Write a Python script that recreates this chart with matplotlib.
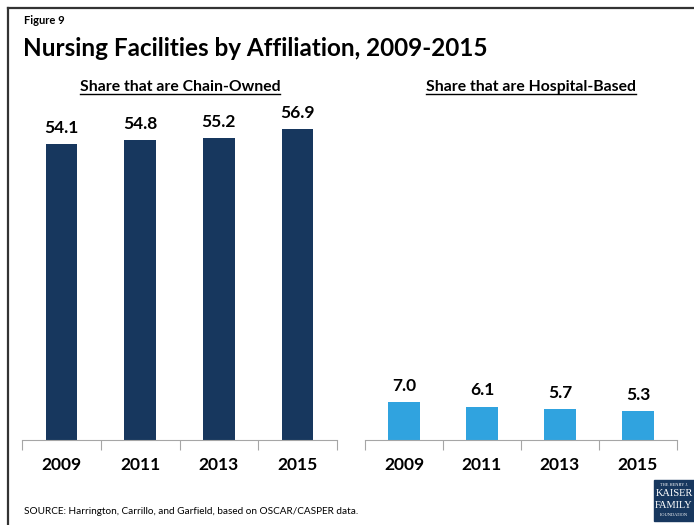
import matplotlib
matplotlib.use("Agg")
import matplotlib.pyplot as plt
from matplotlib.lines import Line2D
from matplotlib.patches import Rectangle

years = ["2009", "2011", "2013", "2015"]
chain_owned = [54.1, 54.8, 55.2, 56.9]
hospital_based = [7.0, 6.1, 5.7, 5.3]

FONT = "Lato"
plt.rcParams["font.family"] = [FONT, "DejaVu Sans"]

fig = plt.figure(figsize=(6.94, 5.25), dpi=100)
W, H = 694, 525


def px(x0, y0, x1, y1):
    # pixel box (top-left origin) -> figure fraction rect
    return [x0 / W, 1 - y1 / H, (x1 - x0) / W, (y1 - y0) / H]


def draw_panel(rect, values, color):
    ax = fig.add_axes(rect)
    x = range(len(values))
    ax.bar(x, values, width=0.4, color=color)
    for xi, v in zip(x, values):
        ax.text(xi, v + 1.5, f"{v:.1f}", ha="center", va="bottom",
                fontsize=12.5, fontweight="bold")
    ax.set_xlim(-0.5, len(values) - 0.5)
    ax.set_ylim(0, 60)
    for s in ["top", "right", "left"]:
        ax.spines[s].set_visible(False)
    ax.spines["bottom"].set_color("#a6a6a6")
    ax.set_yticks([])
    ax.set_xticks([i - 0.5 for i in range(len(values) + 1)])
    ax.set_xticklabels([])
    ax.tick_params(axis="x", length=7, color="#a6a6a6", direction="out")
    for xi, yr in zip(x, years):
        ax.text(xi, -3.2, yr, ha="center", va="top", fontsize=12.5,
                fontweight="bold")
    return ax


draw_panel(px(22, 112, 337, 440), chain_owned, "#17375e")
draw_panel(px(365, 112, 677, 440), hospital_based, "#30a3df")

# frame lines on left and top
fig.add_artist(Line2D([8 / W, 8 / W], [0, 1 - 8 / H], color="#333333", lw=1.6))
fig.add_artist(Line2D([8 / W, 1], [1 - 8 / H, 1 - 8 / H], color="#333333", lw=1.6))

fig.text(24 / W, 1 - 20 / H, "Figure 9", fontsize=8, fontweight="bold",
         va="center", ha="left")
fig.text(23 / W, 1 - 48 / H, "Nursing Facilities by Affiliation, 2009-2015",
         fontsize=17.5, fontweight="bold", va="center", ha="left")

subtitles = [(180, "Share that are Chain-Owned"),
             (531, "Share that are Hospital-Based")]
sub_texts = []
for cx, s in subtitles:
    t = fig.text(cx / W, 1 - 87 / H, s, fontsize=11.3, fontweight="bold",
                 ha="center", va="center")
    sub_texts.append(t)

fig.text(24 / W, 1 - 511 / H,
         "SOURCE: Harrington, Carrillo, and Garfield, based on OSCAR/CASPER data.",
         fontsize=7.2, va="center", ha="left")

# KFF logo block
fig.add_artist(Rectangle((654 / W, 1 - 521 / H), 40 / W, 41 / H,
                         transform=fig.transFigure, color="#17375e"))
logo_lines = [("THE HENRY J.", 3.2, 485), ("KAISER", 7.5, 494),
              ("FAMILY", 7.5, 505), ("FOUNDATION", 3.2, 515)]
for txt, fs, y in logo_lines:
    fig.text(674 / W, 1 - y / H, txt, fontsize=fs, color="white",
             family="Liberation Serif", ha="center", va="center")

# underline subtitles
fig.canvas.draw()
renderer = fig.canvas.get_renderer()
inv = fig.transFigure.inverted()
for t in sub_texts:
    bb = t.get_window_extent(renderer)
    (x0, y0), (x1, y1) = inv.transform([(bb.x0, bb.y0), (bb.x1, bb.y1)])
    yline = y0 + 0.2 / H
    fig.add_artist(Line2D([x0, x1], [yline, yline], color="black", lw=1))

fig.savefig("out.png", dpi=100)
